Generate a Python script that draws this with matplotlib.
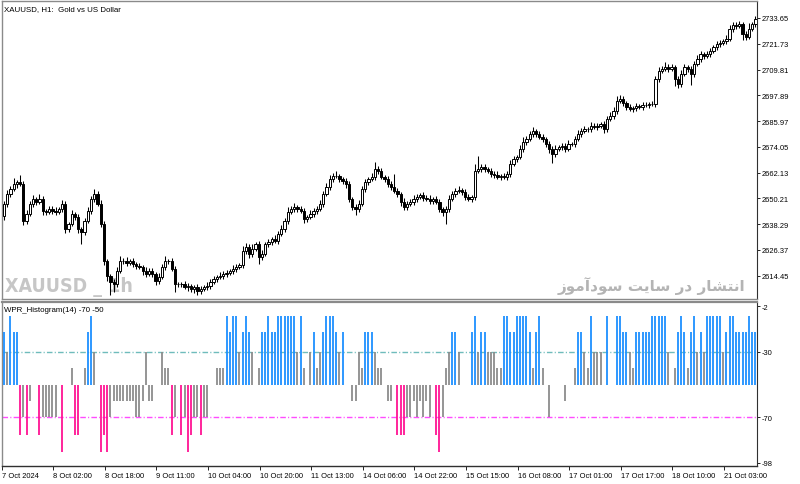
import numpy as np
import matplotlib.pyplot as plt

# XAUUSD H1 closes, 7 Oct 2024 -> 21 Oct 2024
closes = [
    2647.6, 2652.2, 2654.5, 2656.9, 2657.8, 2656.9, 2639.7, 2643.0, 2647.6, 2649.9,
    2648.5, 2649.9, 2644.4, 2643.9, 2645.3, 2644.4, 2643.9, 2645.3, 2647.6, 2636.0,
    2638.3, 2643.0, 2641.6, 2636.0, 2634.6, 2639.7, 2644.4, 2649.9, 2652.2, 2647.6,
    2638.3, 2621.2, 2614.3, 2611.5, 2610.6, 2616.6, 2621.2, 2621.2, 2620.3, 2621.2,
    2619.8, 2618.9, 2618.5, 2616.6, 2615.2, 2616.6, 2615.2, 2612.0, 2613.8, 2618.5,
    2621.2, 2621.2, 2617.5, 2610.6, 2610.6, 2610.6, 2609.2, 2609.7, 2608.3, 2609.2,
    2607.4, 2608.3, 2609.2, 2609.7, 2611.5, 2612.9, 2613.8, 2614.3, 2615.2, 2615.7,
    2616.6, 2617.5, 2618.5, 2619.4, 2625.9, 2627.7, 2624.5, 2626.8, 2629.0, 2623.0,
    2624.5, 2629.0, 2630.0, 2631.3, 2630.4, 2633.7, 2636.0, 2639.7, 2643.9, 2645.3,
    2646.2, 2645.3, 2644.4, 2640.6, 2641.6, 2643.0, 2644.4, 2645.3, 2647.6, 2652.2,
    2655.5, 2659.2, 2660.5, 2660.5, 2659.2, 2658.3, 2656.9, 2649.9, 2646.2, 2645.3,
    2647.6, 2654.5, 2657.8, 2659.2, 2660.1, 2663.8, 2662.9, 2660.1, 2659.2, 2656.9,
    2655.5, 2653.6, 2652.2, 2648.5, 2646.2, 2647.6, 2648.5, 2649.9, 2650.8, 2651.8,
    2650.4, 2649.9, 2649.0, 2649.9, 2648.5, 2645.3, 2643.9, 2645.3, 2649.9, 2652.2,
    2653.6, 2654.1, 2653.2, 2650.8, 2649.9, 2650.8, 2662.9, 2663.8, 2664.7, 2663.8,
    2662.9, 2661.5, 2661.0, 2660.1, 2660.5, 2660.1, 2661.5, 2666.1, 2668.4, 2669.3,
    2673.0, 2676.3, 2677.7, 2680.0, 2681.4, 2680.0, 2678.6, 2677.7, 2675.4, 2673.0,
    2670.7, 2673.0, 2674.0, 2674.4, 2673.0, 2675.4, 2675.4, 2677.7, 2680.0, 2681.4,
    2682.3, 2682.3, 2683.7, 2683.2, 2683.7, 2684.6, 2682.3, 2687.0, 2688.3, 2690.6,
    2695.2, 2696.2, 2694.3, 2692.5, 2691.6, 2692.0, 2692.9, 2692.5, 2693.4, 2693.4,
    2693.9, 2693.9, 2705.4, 2709.1, 2710.1, 2711.0, 2710.1, 2711.0, 2705.4, 2703.1,
    2707.7, 2711.0, 2710.1, 2707.7, 2712.4, 2714.7, 2717.0, 2716.1, 2717.0, 2718.4,
    2720.2, 2721.6, 2722.1, 2723.0, 2723.9, 2728.6, 2730.4, 2729.9, 2730.9, 2726.3,
    2724.9, 2728.6, 2730.9, 2733.2,
]
first_open = 2642.0

up_wick = [
    1.5, 2.0, 1.2, 2.5, 1.0, 3.0, 1.5, 2.0, 1.2, 1.8,
    1.0, 2.2, 1.4, 0.8, 1.6, 1.2, 2.0, 1.0, 1.8, 1.5,
    1.2, 2.0, 1.0, 1.5, 0.8, 1.2, 2.0, 1.5, 2.5, 1.2,
    2.0, 1.5, 1.0, 0.8, 1.5, 2.0, 2.5, 1.2, 1.8, 1.0,
    1.5, 0.8, 1.2, 1.0, 1.8, 1.2, 1.5, 1.0, 2.0, 1.5,
    2.2, 1.0, 1.2, 1.5, 0.8, 1.0, 1.5, 1.2, 0.8, 1.0,
    1.5, 1.2, 1.0, 1.8, 1.2, 1.5, 1.0, 2.0, 1.2, 1.5,
    1.0, 1.8, 1.2, 1.0, 2.5, 2.0, 1.5, 2.2, 1.0, 1.5,
    2.0, 1.2, 1.5, 1.0, 1.8, 1.2, 2.0, 1.5, 2.5, 1.2,
    1.8, 1.0, 1.5, 1.2, 1.0, 1.8, 1.2, 1.5, 2.0, 1.5,
    1.8, 2.0, 1.5, 2.5, 1.2, 1.0, 1.5, 1.2, 1.0, 1.5,
    1.8, 1.2, 1.5, 1.0, 2.0, 3.0, 1.5, 1.2, 1.0, 1.5,
    1.2, 6.0, 1.5, 1.0, 1.8, 1.2, 1.5, 2.0, 1.2, 1.0,
    1.5, 1.2, 1.8, 1.0, 1.5, 1.2, 1.0, 1.5, 2.0, 1.2,
    1.5, 1.8, 1.0, 1.2, 1.5, 1.0, 3.0, 6.0, 1.5, 1.2,
    1.0, 1.5, 1.2, 1.8, 1.0, 1.5, 1.2, 2.0, 1.5, 1.0,
    1.8, 2.5, 1.5, 1.2, 2.0, 1.0, 1.5, 1.2, 1.0, 1.5,
    1.2, 1.8, 1.0, 1.5, 1.2, 2.0, 1.0, 1.5, 1.8, 1.2,
    1.5, 1.0, 2.0, 1.2, 1.5, 1.0, 1.2, 1.5, 2.0, 1.8,
    2.5, 2.0, 1.2, 1.0, 1.5, 1.0, 1.2, 1.0, 1.5, 1.2,
    1.0, 1.2, 1.5, 2.0, 1.2, 2.5, 1.5, 1.2, 1.0, 1.5,
    1.8, 1.2, 1.0, 1.5, 1.2, 1.8, 1.5, 1.0, 1.2, 1.5,
    1.0, 1.5, 1.2, 1.0, 1.8, 2.0, 1.5, 1.2, 1.5, 1.0,
    1.2, 2.5, 1.0, 1.5,
]
dn_wick = [
    2.0, 1.2, 1.5, 1.0, 1.8, 1.2, 2.0, 1.5, 1.0, 1.2,
    1.5, 1.0, 1.8, 1.2, 1.0, 1.5, 1.2, 1.0, 1.5, 2.0,
    1.5, 1.0, 1.2, 1.8, 5.5, 1.2, 1.0, 1.5, 1.2, 1.0,
    1.5, 2.0, 2.5, 6.0, 3.5, 1.2, 1.0, 1.5, 1.2, 1.0,
    1.2, 1.5, 1.0, 1.8, 1.2, 1.0, 1.5, 2.0, 1.2, 1.0,
    1.2, 1.5, 1.0, 3.5, 1.5, 1.2, 1.0, 1.8, 1.2, 2.0,
    2.0, 1.5, 1.0, 1.2, 1.5, 1.0, 1.2, 1.0, 1.5, 1.2,
    1.0, 1.2, 1.5, 1.0, 1.2, 1.5, 2.0, 1.2, 1.0, 3.0,
    1.5, 1.0, 1.2, 1.5, 1.0, 1.2, 1.0, 1.5, 1.2, 1.0,
    1.2, 1.5, 1.0, 1.8, 1.2, 1.0, 1.5, 1.2, 1.0, 1.2,
    1.0, 1.2, 1.5, 1.0, 1.2, 1.5, 2.0, 1.5, 1.2, 3.0,
    1.2, 1.0, 1.5, 1.2, 1.0, 1.2, 1.5, 1.0, 1.2, 1.5,
    1.2, 1.0, 1.5, 2.0, 1.5, 1.2, 1.0, 1.5, 1.2, 1.0,
    1.2, 1.0, 1.5, 1.2, 1.0, 1.5, 2.0, 5.5, 1.2, 1.0,
    1.2, 1.0, 1.5, 1.2, 1.0, 1.5, 1.2, 1.0, 1.2, 1.5,
    1.0, 1.2, 1.5, 1.0, 1.2, 1.0, 1.5, 1.2, 1.0, 1.2,
    1.0, 1.5, 1.2, 1.0, 1.2, 1.5, 1.0, 1.2, 1.5, 2.0,
    4.0, 1.2, 1.0, 1.5, 1.2, 1.0, 1.2, 1.5, 1.0, 1.2,
    1.0, 1.2, 1.5, 1.0, 1.2, 1.0, 2.0, 1.2, 1.0, 1.5,
    1.2, 1.0, 1.5, 1.2, 1.0, 1.5, 1.2, 1.0, 1.2, 1.0,
    1.2, 1.0, 1.5, 1.2, 1.0, 1.2, 1.5, 1.0, 3.0, 2.0,
    1.2, 1.0, 1.5, 5.0, 1.2, 1.0, 1.2, 1.5, 1.0, 1.2,
    1.0, 1.2, 1.5, 1.0, 1.2, 1.0, 1.5, 1.2, 1.0, 3.0,
    1.5, 1.2, 1.0, 1.2,
]

# WPR_Histogram(14) values, bars hang from the -50 base
wpr = [
    -18, -30, -8, -18, -18, -81, -70, -81, -60, -50,
    -50, -81, -70, -70, -70, -70, -70, -50, -91, -50,
    -50, -40, -81, -81, -50, -40, -18, -8, -30, -50,
    -91, -81, -91, -70, -60, -60, -60, -60, -60, -60,
    -60, -70, -70, -60, -30, -60, -60, -50, -50, -30,
    -40, -40, -81, -70, -50, -81, -70, -91, -81, -70,
    -70, -81, -70, -70, -50, -50, -40, -40, -40, -8,
    -18, -8, -8, -30, -18, -8, -18, -30, -50, -40,
    -18, -18, -8, -18, -18, -8, -8, -8, -8, -8,
    -8, -30, -8, -40, -50, -30, -18, -40, -30, -18,
    -8, -8, -8, -18, -30, -18, -50, -50, -60, -60,
    -30, -40, -18, -18, -18, -30, -40, -40, -50, -60,
    -60, -50, -81, -81, -81, -70, -70, -60, -70, -60,
    -70, -60, -70, -50, -81, -91, -70, -40, -30, -18,
    -18, -30, -50, -50, -50, -18, -8, -30, -18, -18,
    -30, -30, -30, -40, -40, -8, -8, -18, -18, -8,
    -8, -8, -8, -18, -40, -18, -8, -40, -50, -70,
    -50, -50, -50, -50, -60, -50, -50, -40, -18, -18,
    -30, -40, -8, -30, -30, -30, -50, -8, -50, -50,
    -8, -8, -18, -18, -30, -40, -18, -18, -18, -18,
    -18, -8, -8, -8, -8, -8, -30, -50, -40, -18,
    -8, -18, -40, -18, -8, -30, -18, -30, -8, -8,
    -8, -8, -8, -30, -18, -8, -8, -18, -18, -18,
    -18, -8, -18, -18,
]

price_ticks = [2614.45, 2626.37, 2638.29, 2650.21, 2662.13, 2674.05,
               2685.97, 2697.89, 2709.81, 2721.73, 2733.65]
wpr_ticks = [-2, -30, -70, -98]
wpr_levels = [-30, -70]
date_labels = ["7 Oct 2024", "8 Oct 02:00", "8 Oct 18:00", "9 Oct 11:00",
               "10 Oct 04:00", "10 Oct 20:00", "11 Oct 13:00", "14 Oct 06:00",
               "14 Oct 22:00", "15 Oct 15:00", "16 Oct 08:00", "17 Oct 01:00",
               "17 Oct 17:00", "18 Oct 10:00", "21 Oct 03:00"]

opens = [first_open] + closes[:-1]
o = np.array(opens)
c = np.array(closes)
hi = np.maximum(o, c) + np.array(up_wick)
lo = np.minimum(o, c) - np.array(dn_wick)
x = np.arange(len(closes))

W, H = 800, 485
fig = plt.figure(figsize=(W / 100, H / 100), dpi=100)
fig.patch.set_facecolor("white")


def px_axes(left, top, right, bottom):
    return fig.add_axes([left / W, 1 - bottom / H, (right - left) / W, (bottom - top) / H])


ax = px_axes(2, 2, 757, 300)
ax2 = px_axes(2, 303, 757, 467)

bar_step = 3.225
xlim = (-2 / bar_step, (757 - 4) / bar_step)
font = "Liberation Sans"
small = 5.4

# ---- price panel ----
up = c >= o
ax.vlines(x, lo, hi, color="black", linewidth=0.75, zorder=2)
ax.bar(x[up], (c - o)[up], bottom=o[up], width=0.7, color="white",
       edgecolor="black", linewidth=0.7, zorder=3)
ax.bar(x[~up], (c - o)[~up], bottom=o[~up], width=0.7, color="black",
       edgecolor="black", linewidth=0.7, zorder=3)
ax.set_xlim(*xlim)
ax.set_ylim(2603.66, 2741.5)
ax.set_xticks([])
ax.yaxis.tick_right()
ax.set_yticks(price_ticks)
ax.set_yticklabels([f"{v:.2f}" for v in price_ticks], family=font, fontsize=small)

ax.text(0.002, 0.985, "XAUUSD, H1:  Gold vs US Dollar", transform=ax.transAxes,
        ha="left", va="top", fontsize=5.7, family=font)
ax.text(0.004, 0.045, "XAUUSD _ 1h", transform=ax.transAxes, ha="left", va="center",
        fontsize=14, fontweight="bold", fontstretch="condensed", color="#c6c6c6",
        family="DejaVu Sans", zorder=1)
# "انتشار در سایت سودآموز" written with Arabic presentation forms, visual order
persian = ("\uFEAF\uFEEE\uFEE3\uFE81\uFEA9\uFEEE\uFEB3 "
           "\uFE96\uFEF3\uFE8E\uFEB3 \uFEAD\uFEA9 "
           "\uFEAD\uFE8E\uFEB8\uFE98\uFEE7\uFE8D")
ax.text(0.985, 0.047, persian, transform=ax.transAxes, ha="right", va="center",
        fontsize=11, fontweight="bold", color="#b4b4b4", family="DejaVu Sans", zorder=1)

# ---- indicator panel ----
v = np.array(wpr)
colors = np.where(v > -30, "#1e90ff", np.where(v < -70, "#ff1493", "#8c8c8c"))
ax2.vlines(x, -50, v, colors=colors, linewidth=1.3, zorder=3)
ax2.axhline(wpr_levels[0], color="#6fbcbc", linewidth=1.0,
            linestyle=(0, (4, 1.6, 0.8, 1.6)), zorder=2)
ax2.axhline(wpr_levels[1], color="#ff4cff", linewidth=1.0,
            linestyle=(0, (4, 1.6, 0.8, 1.6)), zorder=2)
ax2.set_xlim(*xlim)
ax2.set_ylim(-99.84, 0.63)
ax2.yaxis.tick_right()
ax2.set_yticks(wpr_ticks)
ax2.set_yticklabels([str(t) for t in wpr_ticks], family=font, fontsize=small)
ax2.text(0.002, 0.975, "WPR_Histogram(14) -70 -50", transform=ax2.transAxes,
         ha="left", va="top", fontsize=5.7, family=font)

date_ticks = [xlim[0]] + [(53.3 - 4) / bar_step + 16 * k for k in range(len(date_labels) - 1)]
ax2.set_xticks(date_ticks)
ax2.set_xticklabels(date_labels, family=font, fontsize=small)
for lbl in ax2.get_xticklabels():
    lbl.set_horizontalalignment("left")

for a in (ax, ax2):
    for side in ("left", "top", "bottom"):
        a.spines[side].set_color("#8a8a8a")
        a.spines[side].set_linewidth(1.0)
    a.spines["right"].set_color("#303030")
    a.spines["right"].set_linewidth(0.8)
    a.tick_params(axis="y", direction="out", length=2.5, width=0.6, pad=1, colors="black")
    a.tick_params(axis="x", direction="out", length=3, width=0.6, pad=1.5)
ax2.spines["bottom"].set_color("#303030")
ax2.spines["top"].set_linewidth(1.6)

fig.savefig("out.png", dpi=100, facecolor="white")
